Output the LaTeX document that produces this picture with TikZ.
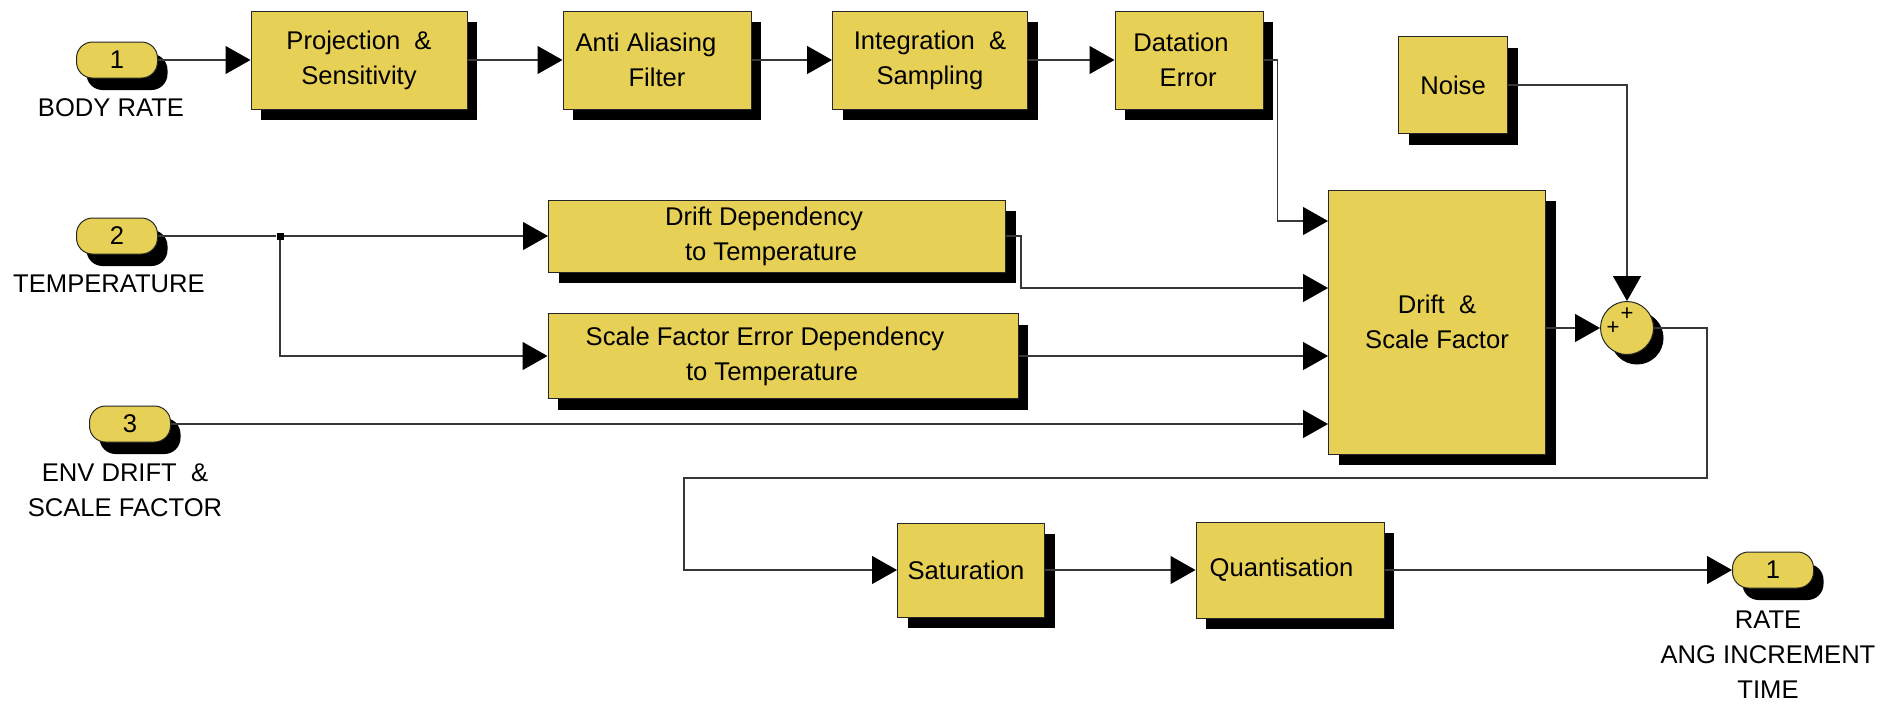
\documentclass[tikz,border=0pt]{standalone}
\usepackage{fontspec}
\setmainfont{Liberation Sans}
\usetikzlibrary{arrows.meta,shadows}
\definecolor{simyellow}{RGB}{231,208,86}
\definecolor{wiregray}{RGB}{55,55,55}

\begin{document}
\begin{tikzpicture}[x=0.5pt,y=-0.5pt,
    font=\fontsize{12.8}{17.5}\selectfont,
    box/.style={draw=black!85, line width=0.5pt, fill=simyellow, align=center, inner sep=0pt},
    blk/.style={box, drop shadow={shadow xshift=5pt,shadow yshift=-5.5pt,fill=black,opacity=1}},
    port/.style={box, rounded corners=8pt, minimum width=40.5pt, minimum height=18pt,
      drop shadow={shadow xshift=5pt,shadow yshift=-6pt,fill=black,opacity=1}},
    sumblk/.style={box, circle, minimum size=26.5pt,
      drop shadow={shadow xshift=5pt,shadow yshift=-5pt,fill=black,opacity=1}},
    wire/.style={draw=wiregray, line width=0.6pt},
    sig/.style={wire, -{Triangle[length=12.5pt,width=14pt,color=black]}},
    lbl/.style={align=center, inner sep=0pt}]
  \useasboundingbox (0,0) rectangle (1898,703);

  \node[port] (in1) at (117,60) {1};
  \node[port] (in2) at (117,236) {2};
  \node[port] (in3) at (130,424) {3};
  \node[port] (out1) at (1773,570) {1};
  \node[lbl] (in1lbl) at (111,108) {BODY RATE};
  \node[lbl] (in2lbl) at (109,284) {TEMPERATURE};
  \node[lbl] (in3lbl) at (125,490) {ENV DRIFT~~\&\\SCALE FACTOR};
  \node[lbl] (out1lbl) at (1768,655) {RATE\\ANG INCREMENT\\TIME};

  \node[blk, minimum width=108pt, minimum height=49pt] (proj) at (359,60) {Projection~~\&\\Sensitivity};
  \node[blk, minimum width=94pt, minimum height=49pt] (aa) at (657,60) {Anti Aliasing\hspace*{11pt}\\Filter};
  \node[blk, minimum width=97.5pt, minimum height=49pt] (integ) at (930,60) {Integration~~\&\\Sampling};
  \node[blk, minimum width=74pt, minimum height=49pt] (dat) at (1189,60) {Datation\hspace*{8pt}\\~~Error\hspace*{8pt}};
  \node[blk, minimum width=54.5pt, minimum height=48.5pt] (noise) at (1453,85) {Noise};
  \node[blk, minimum width=108.5pt, minimum height=132pt] (drift) at (1437,322) {Drift~~\&\\Scale Factor};
  \node[blk, minimum width=228.5pt, minimum height=36pt] (ddep) at (777,236) {Drift Dependency\hspace*{13pt}\\~~to Temperature\hspace*{13pt}};
  \node[blk, minimum width=235pt, minimum height=42.5pt] (sfdep) at (783,356) {Scale Factor Error Dependency\hspace*{18pt}\\~~to Temperature\hspace*{18pt}};
  \node[blk, minimum width=73.5pt, minimum height=47pt] (sat) at (971,570) {Saturation\hspace*{5pt}};
  \node[blk, minimum width=94pt, minimum height=48pt] (quant) at (1290,570) {Quantisation\hspace*{8.5pt}};
  \node[sumblk] (sum) at (1627,328) {};
  \node[inner sep=0pt, font=\fontsize{11}{11}\selectfont] (plus1) at (1627,314) {+};
  \node[inner sep=0pt, font=\fontsize{11}{11}\selectfont] (plus2) at (1613,328) {+};
  \node[fill=black, minimum size=3.5pt, inner sep=0pt] (br) at (280,236) {};

  \coordinate (d1) at ([yshift=50.5pt]drift.west);
  \coordinate (d2) at ([yshift=17pt]drift.west);
  \coordinate (d3) at ([yshift=-17pt]drift.west);
  \coordinate (d4) at ([yshift=-51pt]drift.west);
  \coordinate (fb) at (684,478);

  \draw[sig] (in1) -- (proj);
  \draw[sig] (proj) -- (aa);
  \draw[sig] (aa) -- (integ);
  \draw[sig] (integ) -- (dat);
  \draw[sig] (dat.east) -- ++(14,0) |- (d1);
  \draw[wire] (in2) -- (br);
  \draw[sig] (br) -- (ddep);
  \draw[sig] (br) |- (sfdep);
  \draw[sig] (ddep.east) -- ++(15,0) |- (d2);
  \draw[sig] (sfdep) -- (d3);
  \draw[sig] (in3) -- (d4);
  \draw[sig] (drift.east |- sum) -- (sum);
  \draw[sig] (noise) -| (sum);
  \draw[sig] (sum.east) -- ++(53,0) |- (fb) |- (sat);
  \draw[sig] (sat) -- (quant);
  \draw[sig] (quant) -- (out1);
\end{tikzpicture}
\end{document}
